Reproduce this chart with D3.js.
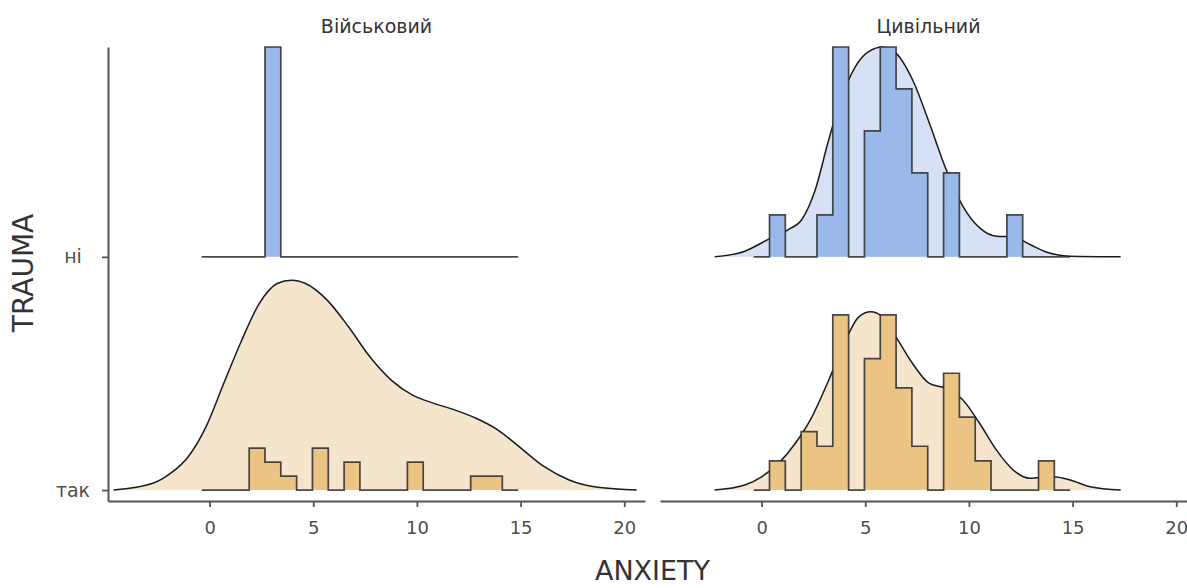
<!DOCTYPE html>
<html><head><meta charset="utf-8">
<script src="https://cdn.jsdelivr.net/npm/d3@7"></script>
<style>
html,body{margin:0;padding:0;background:#fff;}
svg{display:block;}
text{font-family:"DejaVu Sans",sans-serif;}
</style></head>
<body><svg id="c" width="1187" height="588"></svg>
<script>
// ---------- data ----------
const panels = ["Військовий", "Цивільний"];
const rows = ["ні", "так"];
const xTicks = [0, 5, 10, 15, 20];
const binStart = -0.3816;
const binWidth = 0.7632;

// histogram counts (20 bins)
const histMilNi  = [0,0,0,0,6,0,0,0,0,0,0,0,0,0,0,0,0,0,0,0];
const histMilTak = [0,0,0,3,2,1,0,3,0,2,0,0,0,2,0,0,0,1,1,0];
const histCivNi  = [0,1,0,0,1,5,0,3,5,4,2,0,2,0,0,0,1,0,0,0];
const histCivTak = [0,2,0,4,3,12,0,9,12,7,3,0,8,5,2,0,0,0,2,0];

// density curves (x, relative height)
const densMilTakX = [-4.63,-2.74,-1.89,-1.03,-0.18,0.69,1.55,2.40,3.26,3.95,4.63,5.67,6.70,7.73,8.76,9.79,10.82,11.85,12.88,13.91,14.94,16.14,17.34,18.72,20.6];
const densMilTakY = [0,0.032,0.079,0.159,0.30,0.51,0.714,0.889,0.984,1.0,0.984,0.905,0.778,0.635,0.524,0.452,0.413,0.381,0.341,0.286,0.206,0.111,0.048,0.013,0];
const densCivNiX  = [-2.26,-0.81,0.32,1.29,1.94,2.59,3.24,3.88,4.53,5.18,5.83,6.48,7.28,8.09,8.90,9.71,10.52,11.33,12.14,12.95,13.76,14.88,17.32];
const densCivNiY  = [0,0.027,0.083,0.13,0.178,0.32,0.559,0.765,0.908,0.979,1.0,0.971,0.844,0.638,0.416,0.241,0.138,0.098,0.095,0.059,0.022,0.003,0];
const densCivTakX = [-2.26,-0.81,0,0.81,1.62,2.43,3.24,4.05,4.69,5.26,5.83,6.48,7.28,8.09,8.90,9.71,10.52,11.33,12.14,12.95,14.07,14.88,15.85,17.32];
const densCivTakY = [0,0.024,0.063,0.127,0.222,0.349,0.524,0.714,0.825,0.849,0.825,0.730,0.603,0.508,0.484,0.429,0.317,0.19,0.095,0.056,0.063,0.048,0.016,0];

const panelData = [
  { title: panels[0],
    hist: { "ні": histMilNi, "так": histMilTak },
    dens: { "так": {x: densMilTakX, y: densMilTakY} } },
  { title: panels[1],
    hist: { "ні": histCivNi, "так": histCivTak },
    dens: { "ні": {x: densCivNiX, y: densCivNiY}, "так": {x: densCivTakX, y: densCivTakY} } }
];

const colors = {
  "ні":  { dens: "#d6e1f5", hist: "#9bb8ea" },
  "так": { dens: "#f5e5cc", hist: "#ebc483" }
};

// ---------- layout ----------
const svg = d3.select("#c");
const panelX = [[108, 645], [660, 1197]];
const xDomain = [-4.9, 21.0];
const y = d3.scaleLinear().domain([-0.047, 1.9]).range([501, 47]);
const rowIndex = { "так": 0, "ні": 1 };
const scaleH = 0.9;

panelData.forEach((p, pi) => {
  const x = d3.scaleLinear().domain(xDomain).range(panelX[pi]);
  const g = svg.append("g");

  const histDens = {};
  let maxHist = 0;
  rows.forEach(r => {
    const c = p.hist[r];
    const n = d3.sum(c);
    histDens[r] = c.map(v => v / (n * binWidth));
    maxHist = Math.max(maxHist, d3.max(histDens[r]));
  });
  let maxDens = 0;
  Object.values(p.dens).forEach(d => { maxDens = Math.max(maxDens, d3.max(d.y)); });

  // density layer
  rows.forEach(r => {
    const d = p.dens[r];
    if (!d) return;
    const base = rowIndex[r];
    const pts = d.x.map((xv, i) => ({ x: xv, h: d.y[i] / maxDens * scaleH }));
    const area = d3.area().curve(d3.curveMonotoneX)
      .x(q => x(q.x)).y0(y(base)).y1(q => y(base + q.h));
    const line = d3.line().curve(d3.curveMonotoneX)
      .x(q => x(q.x)).y(q => y(base + q.h));
    g.append("path").attr("d", area(pts)).attr("fill", colors[r].dens);
    g.append("path").attr("d", line(pts)).attr("fill", "none")
      .attr("stroke", "#1a1a1a").attr("stroke-width", 1.5);
  });

  // histogram layer
  rows.forEach(r => {
    const base = rowIndex[r];
    const hd = histDens[r];
    const pts = hd.map((v, i) => ({ x: binStart + i * binWidth, h: v / maxHist * scaleH }));
    pts.push({ x: binStart + hd.length * binWidth, h: pts[pts.length - 1].h });
    const area = d3.area().curve(d3.curveStepAfter)
      .x(q => x(q.x)).y0(y(base)).y1(q => y(base + q.h));
    const line = d3.line().curve(d3.curveStepAfter)
      .x(q => x(q.x)).y(q => y(base + q.h));
    g.append("path").attr("d", area(pts)).attr("fill", colors[r].hist);
    g.append("path").attr("d", line(pts)).attr("fill", "none")
      .attr("stroke", "#2a2a2a").attr("stroke-opacity", 0.85).attr("stroke-width", 1.7);
  });

  // x axis
  const ax = svg.append("g").attr("transform", `translate(0,${y(-0.047)})`)
    .call(d3.axisBottom(x).tickValues(xTicks).tickSize(6).tickSizeOuter(0).tickPadding(14));
  ax.select(".domain").attr("stroke", "#555").attr("stroke-width", 2);
  ax.selectAll(".tick line").attr("stroke", "#555").attr("stroke-width", 1.8);
  ax.selectAll(".tick text").attr("fill", "#4d4d4d").style("font-size", "18px")
    .style("font-family", "DejaVu Sans");

  // facet title
  svg.append("text").attr("x", (panelX[pi][0] + panelX[pi][1]) / 2).attr("y", 33)
    .attr("text-anchor", "middle").attr("fill", "#333").style("font-size", "19px")
    .text(p.title);
});

// y axis (left panel only)
const yAxis = svg.append("g").attr("transform", "translate(108,0)")
  .call(d3.axisLeft(y).tickValues(rows.map(r => rowIndex[r]))
    .tickFormat(v => rows.find(r => rowIndex[r] === v)).tickSize(6).tickSizeOuter(0));
yAxis.select(".domain").attr("stroke", "#555").attr("stroke-width", 2);
yAxis.selectAll(".tick line").attr("stroke", "#555").attr("stroke-width", 1.8);
yAxis.selectAll(".tick text").attr("fill", "#4d4d4d").style("font-size", "19px")
  .style("font-family", "DejaVu Sans").attr("text-anchor", "middle").attr("x", -35);

// axis titles
svg.append("text").attr("x", 652.5).attr("y", 580).attr("text-anchor", "middle")
  .attr("fill", "#333").style("font-size", "27px").text("ANXIETY");
svg.append("text").attr("transform", "translate(33,273) rotate(-90)")
  .attr("text-anchor", "middle").attr("fill", "#333").style("font-size", "28px").text("TRAUMA");
</script>
</body></html>
